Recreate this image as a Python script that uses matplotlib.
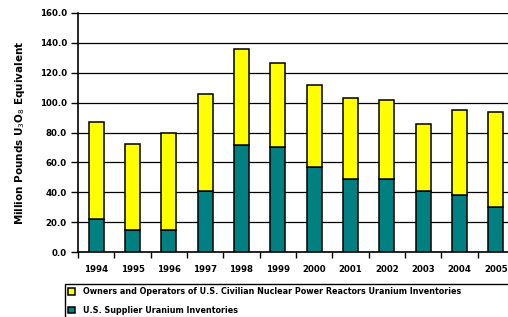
import numpy as np
import matplotlib.pyplot as plt

# Values (million pounds U3O8 equivalent)
years = ['1994', '1995', '1996', '1997', '1998', '1999',
         '2000', '2001', '2002', '2003', '2004', '2005']
supplier = [22.0, 15.0, 15.0, 40.8, 71.4, 70.3, 56.9, 49.1, 49.0, 40.8, 38.0, 30.1]
owners = [65.0, 57.6, 64.7, 65.2, 64.7, 56.5, 54.7, 54.2, 53.0, 45.2, 56.8, 63.6]

labels = ['Owners and Operators of U.S. Civilian Nuclear Power Reactors Uranium Inventories',
          'U.S. Supplier Uranium Inventories']

fig = plt.figure(figsize=(5.08, 3.17), dpi=100)
ax = fig.add_axes([78 / 508, 1 - 252 / 317, 436 / 508, 239 / 317])

x = np.arange(len(years))
b1 = ax.bar(x, supplier, width=0.42, color='#008080', edgecolor='black', linewidth=1.1, zorder=3)
b2 = ax.bar(x, owners, width=0.42, bottom=supplier, color='#ffff00', edgecolor='black',
            linewidth=1.1, zorder=3)

ax.set_xlim(-0.5, len(years) - 0.5)
ax.set_ylim(0, 160)
ax.set_yticks(np.arange(0, 161, 20))
ax.set_yticklabels([f'{v:.1f}' for v in range(0, 161, 20)], fontsize=6.2, fontweight='bold')
ax.yaxis.grid(True, color='black', linewidth=0.9, zorder=0)

# labels at bar centres, tick marks at category boundaries
ax.set_xticks(x)
ax.set_xticklabels(years, fontsize=6.2, fontweight='bold')
ax.set_xticks(np.arange(-0.5, len(years), 1), minor=True)
ax.tick_params(axis='x', which='major', length=0, pad=9)
ax.tick_params(axis='x', which='minor', length=4, width=1, direction='out')
ax.tick_params(axis='y', length=5, width=1, pad=3)

for s in ['top', 'right']:
    ax.spines[s].set_visible(False)
ax.spines['left'].set_linewidth(1.2)
ax.spines['bottom'].set_linewidth(1.2)

ax.set_ylabel('Million Pounds U$_3$O$_8$ Equivalent', fontsize=7.5, fontweight='bold', labelpad=9)

leg = fig.legend([b2, b1], labels, loc='upper left', bbox_to_anchor=(61 / 508, 0, 0.9, 1 - 280 / 317),
                 mode='expand', prop={'weight': 'bold', 'size': 5.8},
                 handlelength=0.8, handleheight=0.8, handletextpad=1.0, labelspacing=1.2,
                 borderpad=0.4, fancybox=False, edgecolor='black', framealpha=1)
leg.get_frame().set_linewidth(1.0)

fig.savefig('out.png', dpi=100)
